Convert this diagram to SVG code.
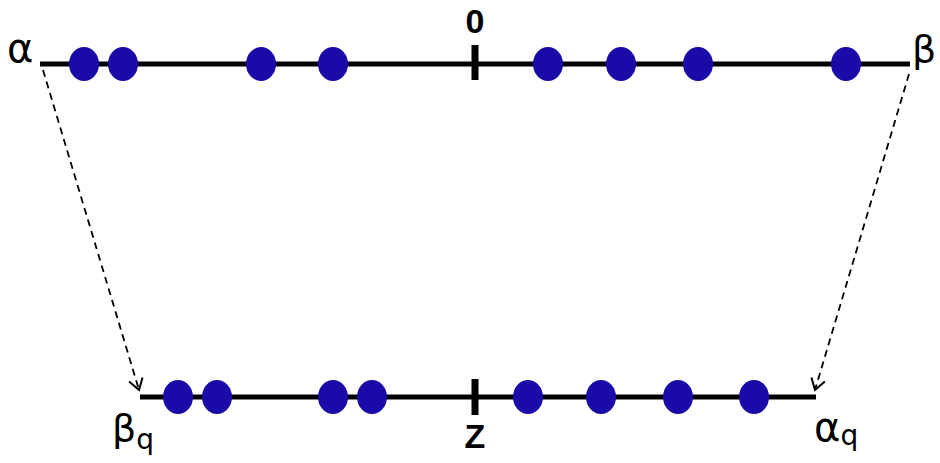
<svg xmlns="http://www.w3.org/2000/svg" width="940" height="463" viewBox="0 0 940 463">
<style>
.axis{stroke:#000;stroke-width:5;fill:none}
.tick{stroke:#000;stroke-width:7}
.dot{fill:#1a0aa8}
.lbl{font-family:"DejaVu Sans","Noto Sans",sans-serif;fill:#000}
.num{font-family:"Liberation Sans",Arial,sans-serif;font-weight:bold;fill:#000}
.conn{stroke:#000;stroke-width:1.8;stroke-dasharray:7,5;fill:none}
</style>
<defs>
<marker id="ah" markerWidth="16" markerHeight="16" refX="12" refY="8" orient="auto" markerUnits="userSpaceOnUse">
<path d="M1,1 L12,8 L1,15" fill="none" stroke="#000" stroke-width="2"/>
</marker>
</defs>
<g id="top-axis">
<line class="axis" x1="40" y1="64" x2="910" y2="64"/>
<line class="tick" x1="475" y1="45" x2="475" y2="80"/>
<text class="num" x="475" y="33" font-size="34" text-anchor="middle">0</text>
<text class="lbl" x="7" y="62" font-size="40">α</text>
<text class="lbl" x="912" y="62" font-size="38">β</text>
</g>
<g id="top-dots">
<ellipse class="dot" cx="84" cy="64" rx="15" ry="17"/>
<ellipse class="dot" cx="123" cy="64" rx="15" ry="17"/>
<ellipse class="dot" cx="261" cy="64" rx="15" ry="17"/>
<ellipse class="dot" cx="333" cy="64" rx="15" ry="17"/>
<ellipse class="dot" cx="548" cy="64" rx="15" ry="17"/>
<ellipse class="dot" cx="621" cy="64" rx="15" ry="17"/>
<ellipse class="dot" cx="698" cy="64" rx="15" ry="17"/>
<ellipse class="dot" cx="846" cy="64" rx="15" ry="17"/>
</g>
<g id="bottom-axis">
<line class="axis" x1="140" y1="397" x2="816" y2="397"/>
<line class="tick" x1="475" y1="379" x2="475" y2="415"/>
<text class="num" x="475" y="448" font-size="34" text-anchor="middle">Z</text>
<text class="lbl" x="112" y="441" font-size="38">β<tspan font-size="28" dy="8">q</tspan></text>
<text class="lbl" x="814" y="441" font-size="40">α<tspan font-size="28" dy="4">q</tspan></text>
</g>
<g id="bottom-dots">
<ellipse class="dot" cx="178" cy="397" rx="15" ry="17"/>
<ellipse class="dot" cx="217" cy="397" rx="15" ry="17"/>
<ellipse class="dot" cx="333" cy="397" rx="15" ry="17"/>
<ellipse class="dot" cx="372" cy="397" rx="15" ry="17"/>
<ellipse class="dot" cx="528" cy="397" rx="15" ry="17"/>
<ellipse class="dot" cx="601" cy="397" rx="15" ry="17"/>
<ellipse class="dot" cx="678" cy="397" rx="15" ry="17"/>
<ellipse class="dot" cx="754" cy="397" rx="15" ry="17"/>
</g>
<g id="connectors">
<line class="conn" x1="43" y1="70" x2="139" y2="390" marker-end="url(#ah)"/>
<line class="conn" x1="909" y1="74" x2="815" y2="390" marker-end="url(#ah)"/>
</g>
</svg>
